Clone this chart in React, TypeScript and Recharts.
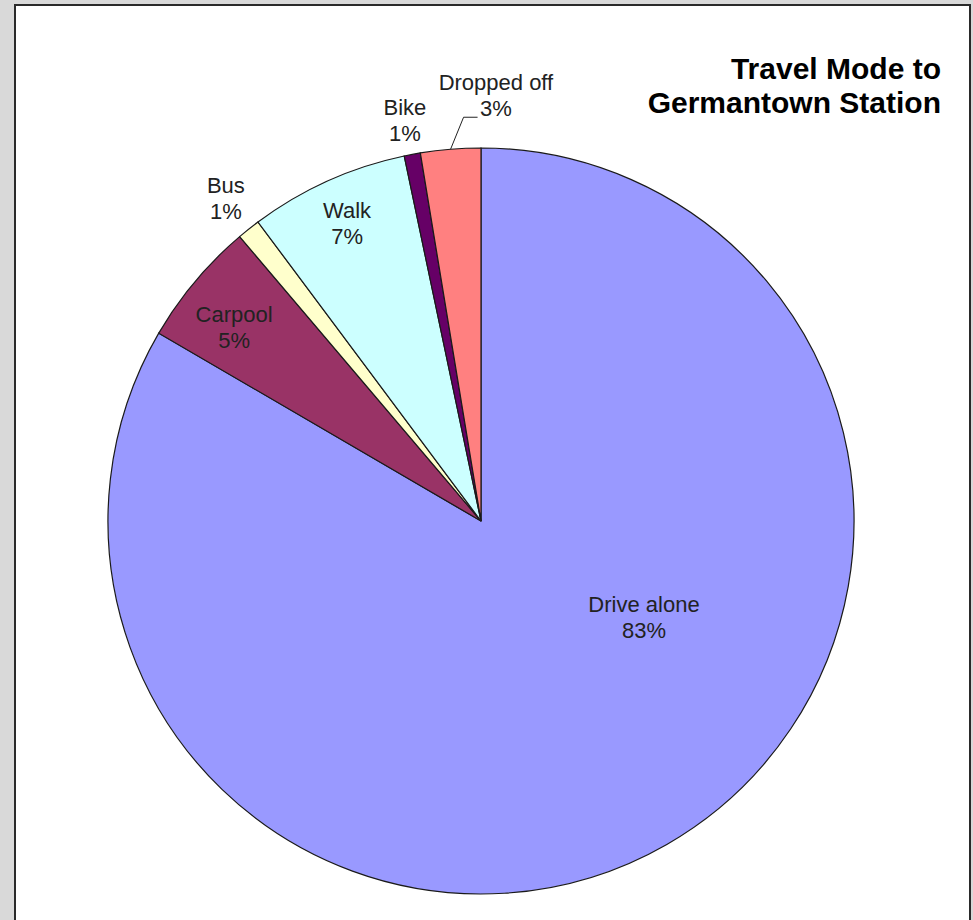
import { PieChart, Pie, Cell } from 'recharts';

// travel mode shares, clockwise from 12 o'clock
const MODES = ['Drive alone', 'Carpool', 'Bus', 'Walk', 'Bike', 'Dropped off'];
const SHARES = [83.4, 5.4, 1.0, 6.9, 0.7, 2.6];
const TITLE_LINES = ['Travel Mode to', 'Germantown Station'];

const COLORS = [
  '#9999FF', // Drive alone
  '#993366', // Carpool
  '#FFFFCC', // Bus
  '#CCFFFF', // Walk
  '#660066', // Bike
  '#FF8080', // Dropped off
];

// label anchor (baseline of first line) as fractions of the radius from the centre
const LABEL_POS: [number, number][] = [
  [0.437, 0.244],
  [-0.662, -0.534],
  [-0.684, -0.879],
  [-0.359, -0.812],
  [-0.204, -1.088],
  [0.04, -1.155],
];

const FONT = '"Liberation Sans", Arial, sans-serif';
const RAD = Math.PI / 180;

const data = MODES.map((name, i) => ({ name, value: SHARES[i] }));

function renderLabel(props: any) {
  const { cx, cy, outerRadius, index, percent, midAngle, name } = props;
  const [fx, fy] = LABEL_POS[index];
  const x = cx + fx * outerRadius;
  const y = cy + fy * outerRadius;
  const pct = `${Math.round(percent * 100)}%`;
  let leader = null;
  if (index === 5) {
    // leader line from slice edge up to the label
    const sx = cx + outerRadius * Math.cos(-midAngle * RAD);
    const sy = cy + outerRadius * Math.sin(-midAngle * RAD);
    const ex = sx + 13;
    const ey = sy - 32;
    leader = (
      <polyline
        points={`${sx},${sy} ${ex},${ey} ${ex + 14},${ey}`}
        fill="none"
        stroke="#222"
        strokeWidth={1}
      />
    );
  }
  return (
    <g key={`lbl-${index}`}>
      {leader}
      <text
        x={x}
        y={y}
        textAnchor="middle"
        fontFamily={FONT}
        fontSize={22}
        fill="#222"
      >
        <tspan x={x} dy={0}>{name}</tspan>
        <tspan x={x} dy={26}>{pct}</tspan>
      </text>
    </g>
  );
}

export default function App() {
  return (
    <div
      style={{
        position: 'absolute',
        left: 0,
        top: 0,
        width: 973,
        height: 920,
        background: '#d9d9d9',
        overflow: 'hidden',
      }}
    >
      {/* white chart area */}
      <div
        style={{
          position: 'absolute',
          left: 14,
          top: 4,
          width: 953,
          height: 940,
          background: '#fff',
          borderLeft: '2px solid #2a2a2a',
          borderTop: '2px solid #2a2a2a',
          borderRight: '2px solid #2a2a2a',
        }}
      />
      <div style={{ position: 'absolute', left: 0, top: 0 }}>
        <PieChart width={973} height={920} margin={{ top: 0, right: 0, bottom: 0, left: 0 }}>
          <Pie
            data={data}
            dataKey="value"
            nameKey="name"
            cx={481}
            cy={521}
            outerRadius={373}
            startAngle={90}
            endAngle={-270}
            stroke="#1a1a1a"
            strokeWidth={1.2}
            labelLine={false}
            label={renderLabel}
            isAnimationActive={false}
          >
            {data.map((_, index) => (
              <Cell key={`cell-${index}`} fill={COLORS[index]} />
            ))}
          </Pie>
        </PieChart>
      </div>
      {/* title */}
      <div
        style={{
          position: 'absolute',
          right: 32,
          top: 52,
          textAlign: 'right',
          fontFamily: FONT,
          fontWeight: 'bold',
          fontSize: 30,
          lineHeight: '34px',
          color: '#000',
        }}
      >
        {TITLE_LINES.map((t) => (
          <div key={t}>{t}</div>
        ))}
      </div>
    </div>
  );
}
